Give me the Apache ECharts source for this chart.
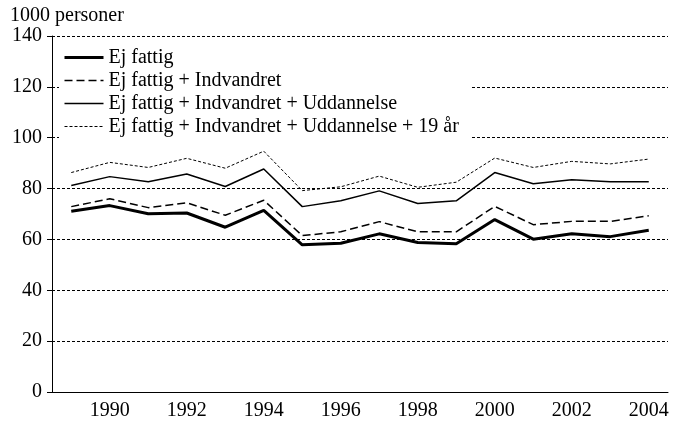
<!DOCTYPE html>
<html>
<head>
<meta charset="utf-8">
<title>Ej fattig</title>
<script src="https://cdn.jsdelivr.net/npm/echarts@6/dist/echarts.min.js"></script>
<style>
  body { margin: 0; background: #fff; }
  #main { width: 675px; height: 422px; }
</style>
</head>
<body>
<div id="main"></div>
<script>
  var years = ['1989', '1990', '1991', '1992', '1993', '1994', '1995', '1996',
               '1997', '1998', '1999', '2000', '2001', '2002', '2003', '2004'];
  var ejFattig = [71.1, 73.3, 70.1, 70.4, 64.8, 71.4, 57.9, 58.5, 62.2, 58.8, 58.3, 67.8, 60.1, 62.2, 61.1, 63.6];
  var indvandret = [72.9, 76.0, 72.5, 74.4, 69.5, 75.4, 61.5, 63.0, 67.0, 63.0, 63.0, 73.0, 65.8, 67.1, 67.1, 69.3];
  var uddannelse = [81.2, 84.7, 82.7, 85.7, 80.8, 87.7, 72.9, 75.2, 79.1, 74.1, 75.2, 86.3, 81.9, 83.5, 82.7, 82.7];
  var nitten = [86.3, 90.3, 88.3, 91.9, 88.0, 94.7, 79.2, 80.7, 84.9, 80.5, 82.5, 92.0, 88.3, 90.7, 89.7, 91.6];
  var names = ['Ej fattig', 'Ej fattig + Indvandret', 'Ej fattig + Indvandret + Uddannelse',
               'Ej fattig + Indvandret + Uddannelse + 19 år'];

  var font = '"Liberation Serif", "Times New Roman", serif';
  var styles = [
    { width: 3, type: 'solid' },
    { width: 1.5, type: [8, 4] },
    { width: 1.5, type: 'solid' },
    { width: 1, type: [3, 2] }
  ];
  var chart = echarts.init(document.getElementById('main'));

  function line(i, data) {
    return {
      name: names[i], type: 'line', data: data, symbol: 'none', z: 4 - i,
      lineStyle: { color: '#000', width: styles[i].width, type: styles[i].type },
      itemStyle: { color: '#000' }
    };
  }

  chart.setOption({
    animation: false,
    title: {
      text: '1000 personer', left: 10, top: 6, padding: 0,
      textStyle: { fontFamily: font, fontSize: 20, fontWeight: 'normal', color: '#000' }
    },
    legend: {
      orient: 'vertical', left: 59, top: 45,
      itemWidth: 39, itemHeight: 14, itemGap: 0,
      backgroundColor: '#fff', padding: [1, 13, 0, 4],
      itemStyle: { opacity: 0 },
      textStyle: { fontFamily: font, fontSize: 20, lineHeight: 23, color: '#000' },
      data: names.map(function (n, i) {
        return { name: n, lineStyle: { color: '#000', width: styles[i].width, type: styles[i].type } };
      })
    },
    grid: { left: 52, right: 7, top: 36, bottom: 30 },
    xAxis: {
      type: 'category', data: years, boundaryGap: true,
      axisLine: { lineStyle: { color: '#000', width: 1 } },
      axisTick: { interval: 0, length: 5, lineStyle: { color: '#000' } },
      axisLabel: {
        interval: function (i) { return i % 2 === 1; },
        fontFamily: font, fontSize: 20, color: '#000', margin: 9
      }
    },
    yAxis: {
      type: 'value', min: 0, max: 140, interval: 20,
      axisLine: { show: true, lineStyle: { color: '#000', width: 1 } },
      axisTick: { show: true, length: 5, lineStyle: { color: '#000' } },
      axisLabel: { fontFamily: font, fontSize: 20, color: '#000', margin: 10 },
      splitLine: { lineStyle: { color: '#000', width: 1, type: [3, 2] } }
    },
    series: [
      line(0, ejFattig),
      line(1, indvandret),
      line(2, uddannelse),
      line(3, nitten)
    ]
  });
</script>
</body>
</html>
